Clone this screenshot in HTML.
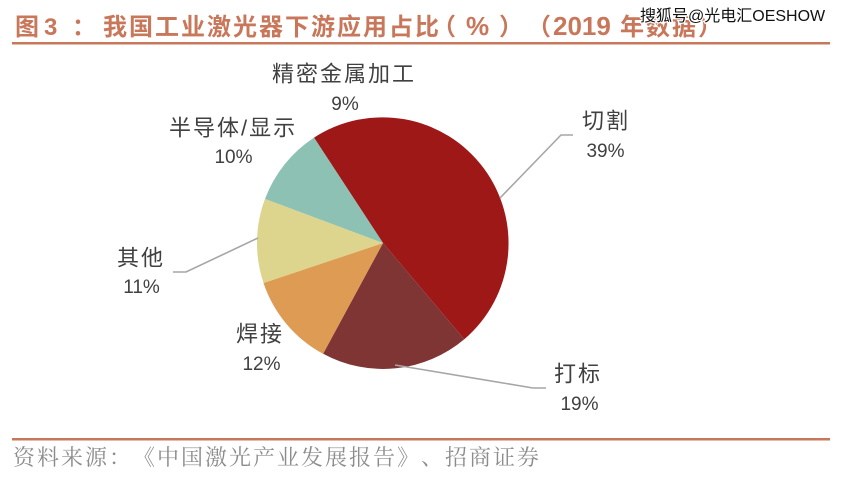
<!DOCTYPE html>
<html>
<head>
<meta charset="utf-8">
<style>
html,body{margin:0;padding:0;background:#fff;}
body{width:842px;height:478px;overflow:hidden;}
svg{display:block;}
.lab{font-family:"Liberation Sans","Noto Sans CJK SC",sans-serif;font-size:22px;fill:#404040;letter-spacing:2px;}
.pct{font-family:"Liberation Sans","Noto Sans CJK SC",sans-serif;font-size:19px;fill:#404040;}
.title{font-family:"Liberation Sans","Noto Sans CJK SC",sans-serif;font-size:24px;font-weight:bold;fill:#c8775a;}
.foot{font-family:"Liberation Serif","Noto Serif CJK SC",serif;font-size:22px;fill:#8c8c8c;}
.wm{font-family:"Liberation Sans","Noto Sans CJK SC",sans-serif;font-size:16px;fill:#111;stroke:#fff;stroke-width:2.5px;paint-order:stroke;}
</style>
</head>
<body>
<svg width="842" height="478" viewBox="0 0 842 478" xmlns="http://www.w3.org/2000/svg">
  <rect x="0" y="0" width="842" height="478" fill="#ffffff"/>

  <!-- Title -->
  <text class="title" y="35">
    <tspan x="15">图</tspan>
    <tspan x="44">3</tspan>
    <tspan x="72">：</tspan>
    <tspan x="103 129 155 181 207 233 259 285 311 337 363 389 415">我国工业激光器下游应用占比</tspan>
    <tspan x="432">（</tspan>
    <tspan x="466" style="font-size:26px">%</tspan>
    <tspan x="499">）</tspan>
    <tspan x="527">（</tspan>
    <tspan x="553" style="font-size:26px">2019</tspan>
    <tspan x="620 646 672 698">年数据）</tspan>
  </text>
  <text class="wm" x="640" y="21">搜狐号@光电汇OESHOW</text>
  <rect x="12" y="42" width="818" height="2.5" fill="#c8775a"/>

  <!-- Pie -->
  <path d="M383,243 L314,137.6 A126,126 0 0 1 464.3,339.2 Z" fill="#9f1818"/>
  <path d="M383,243 L464.3,339.2 A126,126 0 0 1 323.1,353.8 Z" fill="#803535"/>
  <path d="M383,243 L323.1,353.8 A126,126 0 0 1 263.5,283 Z" fill="#de9b53"/>
  <path d="M383,243 L263.5,283 A126,126 0 0 1 265,198.9 Z" fill="#ddd48d"/>
  <path d="M383,243 L265,198.9 A126,126 0 0 1 314,137.6 Z" fill="#8cc1b4"/>

  <!-- Leader lines -->
  <polyline points="500,198 561,135 573,135" fill="none" stroke="#a6a6a6" stroke-width="1.6"/>
  <polyline points="258,238 186,272 173,272" fill="none" stroke="#a6a6a6" stroke-width="1.6"/>
  <polyline points="395,365 533,388 546,388" fill="none" stroke="#a6a6a6" stroke-width="1.6"/>

  <!-- Labels -->
  <text class="lab" x="272" y="81.5">精密金属加工</text>
  <text class="pct" x="345" y="110" text-anchor="middle">9%</text>

  <text class="lab" x="169" y="135.5">半导体/显示</text>
  <text class="pct" x="233.5" y="163" text-anchor="middle">10%</text>

  <text class="lab" x="582" y="128.5">切割</text>
  <text class="pct" x="605.5" y="157" text-anchor="middle">39%</text>

  <text class="lab" x="117" y="265.5">其他</text>
  <text class="pct" x="141.5" y="293" text-anchor="middle">11%</text>

  <text class="lab" x="236" y="341.5">焊接</text>
  <text class="pct" x="261.5" y="370" text-anchor="middle">12%</text>

  <text class="lab" x="554" y="381.5">打标</text>
  <text class="pct" x="579.5" y="410" text-anchor="middle">19%</text>

  <!-- Footer -->
  <rect x="12" y="438" width="818" height="2.5" fill="#c8775a"/>
  <text class="foot" y="465" x="13 37 61 85 109 133 157 181 205 229 253 277 301 325 349 373 397 421 445 469 493 517">资料来源：《中国激光产业发展报告》、招商证券</text>
</svg>
</body>
</html>
